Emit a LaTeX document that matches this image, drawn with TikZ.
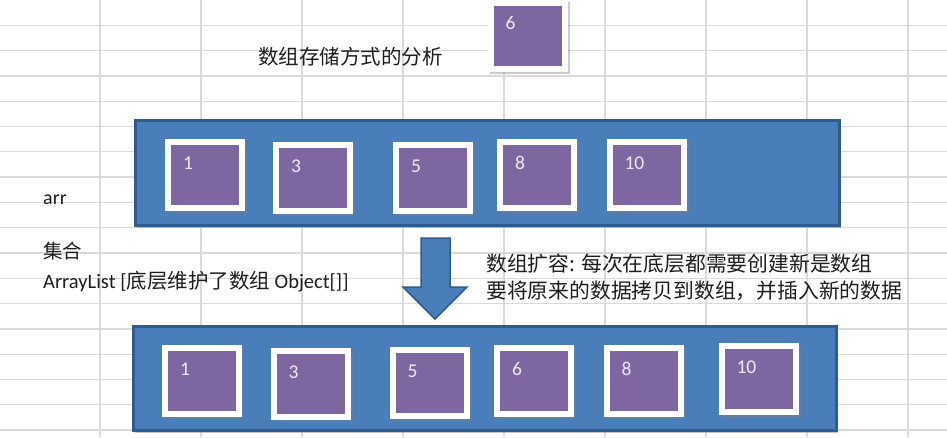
\documentclass[tikz,border=0pt]{standalone}
\usepackage{fontspec}
\setmainfont{Carlito}
\newfontfamily\cjk{Noto Sans CJK SC}
\usetikzlibrary{shadows,calc}
\definecolor{gridc}{HTML}{DADADA}
\definecolor{barfill}{HTML}{4A7EBB}
\definecolor{bardraw}{HTML}{2F5B8E}
\definecolor{cellpurple}{HTML}{7E66A1}
\definecolor{numc}{HTML}{F0EAF8}
\definecolor{txt}{HTML}{1E1E1E}
\begin{document}
\begin{tikzpicture}[x=1pt,y=-1pt,
  bar/.style={draw=bardraw, line width=2.5pt, fill=barfill, inner sep=0pt,
    drop shadow={shadow xshift=1pt, shadow yshift=-2pt, opacity=0.45}},
  cell/.style={fill=white, inner sep=0pt, minimum width=80pt, minimum height=72pt,
    drop shadow={shadow xshift=2pt, shadow yshift=-2.5pt, opacity=0.4},
    path picture={\fill[cellpurple] ([shift={(6pt,-6pt)}]path picture bounding box.north west) rectangle ([shift={(-6pt,6pt)}]path picture bounding box.south east);}},
  num/.style={anchor=base west, inner sep=0pt, text=numc, font=\fontsize{19.5}{19.5}\selectfont},
  lbl/.style={anchor=base west, inner sep=0pt, text=txt},
  gridline/.style={gridc, line width=1.3pt},
  blockarrow/.style={draw=bardraw, line width=1.5pt, fill=barfill, line join=miter}
]
\useasboundingbox (0,0) rectangle (947,437);
\fill[white] (0,0) rectangle (947,437);
% spreadsheet grid
\foreach \i in {0,...,8} \draw[gridline] ({100+101*\i},0) -- ({100+101*\i},437);
\foreach \j in {1,...,17} \draw[gridline] (0,{25.3*\j}) -- (947,{25.3*\j});

% title and the new element
\node[lbl, font=\cjk\fontsize{20.5}{20.5}\selectfont] (title) at (258,64) {数组存储方式的分析};
\node[cell] (c6) at (527.5,35.5) {};
\node[num] (n6) at ($(c6.north west)+(18,30)$) {6};

% upper array
\node[bar, minimum width=704pt, minimum height=105pt] (arr) at (487.5,173) {};
\node[cell] (a1) at (205,174.5) {};
\node[cell] (a3) at (313,177.5) {};
\node[cell] (a5) at (433,177.5) {};
\node[cell] (a8) at (537,174.5) {};
\node[cell] (a10) at (646.5,174.5) {};
\node[num] (na1) at ($(a1.north west)+(18,31)$) {1};
\node[num] (na3) at ($(a3.north west)+(18,31)$) {3};
\node[num] (na5) at ($(a5.north west)+(18,31)$) {5};
\node[num] (na8) at ($(a8.north west)+(18,31)$) {8};
\node[num] (na10) at ($(a10.north west)+(18,31)$) {10};

% left labels
\node[lbl, font=\fontsize{20}{20}\selectfont] (arrlbl) at (43,204) {arr};
\node[lbl, font=\cjk\fontsize{19.5}{19.5}\selectfont] (jihe) at (43,258) {集合};
\node[lbl, font=\fontsize{20.5}{20.5}\selectfont] (alist) at (43,288) {ArrayList [{\cjk 底层维护了数组} Object[]]};

% right explanation
\node[lbl, font=\cjk\fontsize{20.8}{20.8}\selectfont] (exp1) at (486,271) {数组扩容: 每次在底层都需要创建新是数组};
\node[lbl, font=\cjk\fontsize{20.8}{20.8}\selectfont] (exp2) at (486,298) {要将原来的数据拷贝到数组，并插入新的数据};

% block arrow
\draw[blockarrow] (421,238) -- (450,238) -- (450,287) -- (467,287) -- (435,319) -- (403,287) -- (421,287) -- cycle;

% lower array
\node[bar, minimum width=703pt, minimum height=104pt] (arr2) at (485,378.5) {};
\node[cell] (b1) at (202,380.5) {};
\node[cell] (b3) at (310.5,383.5) {};
\node[cell] (b5) at (429.5,383) {};
\node[cell] (b6) at (534,380.5) {};
\node[cell] (b8) at (643.5,380.5) {};
\node[cell] (b10) at (758.5,379) {};
\node[num] (nb1) at ($(b1.north west)+(18,31)$) {1};
\node[num] (nb3) at ($(b3.north west)+(18,31)$) {3};
\node[num] (nb5) at ($(b5.north west)+(18,31)$) {5};
\node[num] (nb6) at ($(b6.north west)+(18,31)$) {6};
\node[num] (nb8) at ($(b8.north west)+(18,31)$) {8};
\node[num] (nb10) at ($(b10.north west)+(18,31)$) {10};
\end{tikzpicture}
\end{document}
